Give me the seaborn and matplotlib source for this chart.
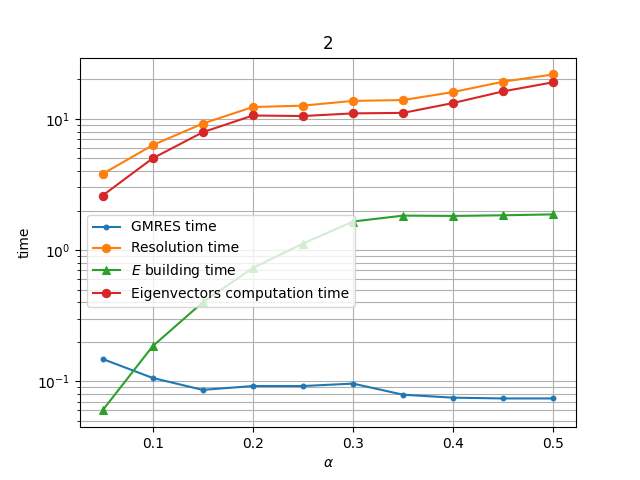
import matplotlib
matplotlib.use("Agg")
import matplotlib.pyplot as plt
import seaborn as sns

alpha = [0.05, 0.1, 0.15, 0.2, 0.25, 0.3, 0.35, 0.4, 0.45, 0.5]
gmres = [0.148, 0.106, 0.086, 0.092, 0.092, 0.096, 0.079, 0.075, 0.074, 0.074]
resolution = [3.8, 6.3, 9.2, 12.3, 12.6, 13.7, 13.9, 16.0, 19.2, 21.8]
ebuild = [0.06, 0.185, 0.40, 0.73, 1.12, 1.65, 1.83, 1.82, 1.84, 1.87]
eigen = [2.6, 5.0, 7.9, 10.6, 10.5, 11.0, 11.1, 13.2, 16.2, 19.0]

fig, ax = plt.subplots(figsize=(6.4, 4.8), dpi=100)
series = [("GMRES time", gmres, "."), ("Resolution time", resolution, "o"),
          ("$E$ building time", ebuild, "^"), ("Eigenvectors computation time", eigen, "o")]
colors = ["#1f77b4", "#ff7f0e", "#2ca02c", "#d62728"]
for (lab, y, m), c in zip(series, colors):
    sns.lineplot(x=alpha, y=y, marker=m, markersize=6 if m != "." else 7,
                 markeredgecolor=c, color=c, label=lab, ax=ax)
ax.set_yscale("log")
ax.grid(True, which="both")
ax.set_xlabel(r"$\alpha$")
ax.set_ylabel("time")
ax.set_title("2")
ax.legend(loc="center left", bbox_to_anchor=(0.0, 0.45))
fig.savefig("out.png")
